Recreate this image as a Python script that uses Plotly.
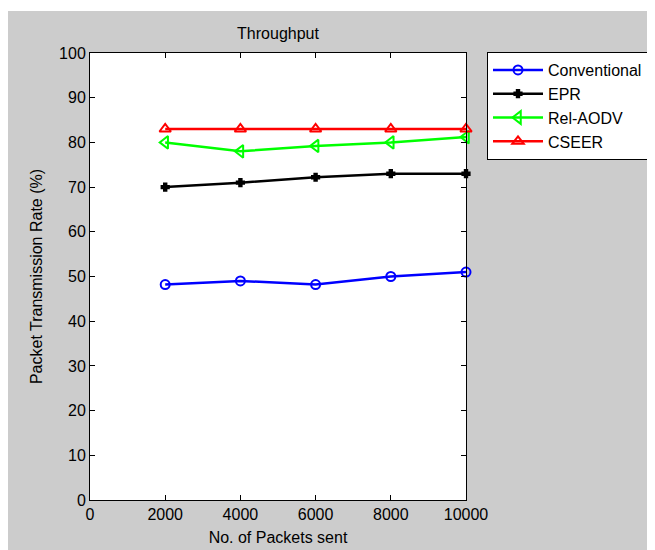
import plotly.graph_objects as go

packets = [2000, 4000, 6000, 8000, 10000]
conventional = [48.2, 49.0, 48.2, 50.0, 51.0]
epr = [70.0, 71.0, 72.2, 73.0, 73.0]
rel_aodv = [80.0, 78.0, 79.2, 80.0, 81.2]
cseer = [83.0, 83.0, 83.0, 83.0, 83.0]

x_ticks = [0, 2000, 4000, 6000, 8000, 10000]
y_ticks = list(range(0, 101, 10))

series = [
    ("Conventional", conventional, "#0000ff", "circle-open", 9),
    ("EPR", epr, "#000000", "cross", 6),
    ("Rel-AODV", rel_aodv, "#00ff00", "triangle-left-open", 11),
    ("CSEER", cseer, "#ff0000", "triangle-up-open", 10),
]

fig = go.Figure()
for name, vals, color, sym, size in series:
    fig.add_trace(go.Scatter(
        x=packets, y=vals, name=name, mode="lines+markers",
        line=dict(color=color, width=2.5),
        marker=dict(symbol=sym, size=size, color=color,
                    line=dict(color=color, width=2)),
        cliponaxis=False,
    ))

font = dict(family="Liberation Sans, Arial, sans-serif", size=16, color="#000000")

axis_common = dict(
    showgrid=False, zeroline=False, showline=True, linecolor="#000000",
    linewidth=1, mirror="ticks", ticks="inside", ticklen=5,
    tickcolor="#000000", tickfont=font,
)

# page is offset by the browser's 8px body margin
W, H = 647, 542
L, T = 82, 45
R = W - (466 - 8)
B = H - (500 - 8)
PW = W - L - R
PH = H - T - B

fig.update_layout(
    width=W, height=H,
    margin=dict(l=L, r=R, t=T, b=B, autoexpand=False),
    paper_bgcolor="#cccccc", plot_bgcolor="#ffffff",
    font=font,
    title=dict(text="Throughput", x=(278 - 8) / W, xanchor="center",
               y=1 - (33 - 8) / H, yanchor="middle", font=font),
    xaxis=dict(range=[0, 10000], tickvals=x_ticks,
               ticktext=[str(v) for v in x_ticks],
               title=dict(text="No. of Packets sent", font=font, standoff=9),
               **axis_common),
    yaxis=dict(range=[0, 100], tickvals=y_ticks,
               ticktext=[str(v) for v in y_ticks],
               title=dict(text="Packet Transmission Rate (%)", font=font, standoff=12),
               **axis_common),
    legend=dict(x=(487 - 8 - L) / PW, y=(PH + T - (52 - 8)) / PH,
                xanchor="left", yanchor="top",
                bgcolor="#ffffff", bordercolor="#000000", borderwidth=1,
                font=font, itemwidth=50, tracegroupgap=0),
    showlegend=True,
    shapes=[
        dict(type="rect", xref="paper", yref="paper",
             x0=-L / PW - 0.1, x1=(W - L) / PW + 0.1,
             y0=(PH + T - 3) / PH, y1=(PH + T + 5) / PH,
             fillcolor="#ffffff", line=dict(width=0), layer="below"),
    ],
)

fig.write_html("out.html")
